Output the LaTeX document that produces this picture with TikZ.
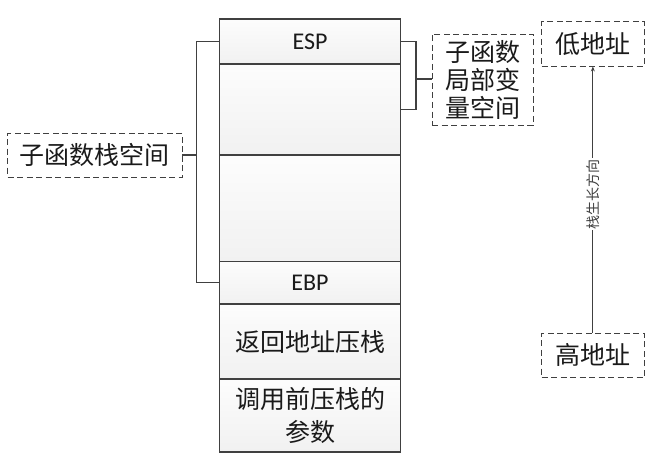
\documentclass[tikz,border=0pt]{standalone}
\usepackage{fontspec}
\newfontfamily\cjk{Noto Sans CJK SC}
\newfontfamily\lat{Carlito}
\usetikzlibrary{arrows.meta}
\definecolor{linec}{HTML}{404040}
\definecolor{txtc}{HTML}{1A1A1A}
\tikzset{
  cell/.style={draw=linec, line width=1.2pt, top color=gray!2, bottom color=gray!11,
    minimum width=181pt, inner sep=0pt, text=txtc, align=center},
  dbox/.style={draw=linec, line width=0.9pt, dash pattern=on 6pt off 3.5pt, fill=white,
    inner sep=0pt, text=txtc, align=center, font=\cjk\fontsize{25}{28}\selectfont},
  conn/.style={draw=linec, line width=1.2pt},
}
\begin{document}
\begin{tikzpicture}[x=1pt,y=-1pt]
\useasboundingbox (0,0) rectangle (667,460);
% stack cells
\node[cell, minimum height=45pt, font=\lat\fontsize{24}{28}\selectfont] (esp) at (310,41.5) {ESP};
\node[cell, minimum height=91pt] (b1) at (310,109.5) {};
\node[cell, minimum height=106.5pt] (b2) at (310,208.25) {};
\node[cell, minimum height=42.5pt, font=\lat\fontsize{24}{28}\selectfont] (ebp) at (310,282.75) {EBP};
\node[cell, minimum height=75pt, font=\cjk\fontsize{25}{28}\selectfont] (ret) at (310,341.5) {返回地址压栈};
\node[cell, minimum height=73pt, font=\cjk\fontsize{25}{33}\selectfont] (args) at (310,415.5) {调用前压栈的\\参数};
% labels
\node[dbox, minimum width=174.5pt, minimum height=44pt] (lbl1) at (94.75,155) {子函数栈空间};
\node[dbox, minimum width=101pt, minimum height=91pt] (lbl2) at (482.5,79.5) {子函数\\局部变\\量空间};
\node[dbox, minimum width=102.3pt, minimum height=44.3pt] (low) at (592.85,43.85) {低地址};
\node[dbox, minimum width=102.3pt, minimum height=44.7pt] (high) at (592.85,355.35) {高地址};
% brackets
\coordinate (bl) at (196.5,155);
\coordinate (br) at (416,79);
\draw[conn] (esp.west) -- (esp.west -| bl) -- (ebp.west -| bl) -- (ebp.west);
\draw[conn] (lbl1.east) -- (bl);
\draw[conn] (esp.east) -- (esp.east -| br) -- (b1.east -| br) -- (b1.east);
\draw[conn] (br) -- (lbl2.west |- br);
% growth arrow
\draw[draw=linec, line width=1pt, -{Stealth[length=5pt,width=4pt]}] (high.north) -- node[pos=0.52, sloped, fill=white, inner sep=1pt, text=linec, font=\cjk\fontsize{14}{16}\selectfont] (grow) {栈生长方向} (low.south);
\end{tikzpicture}
\end{document}
